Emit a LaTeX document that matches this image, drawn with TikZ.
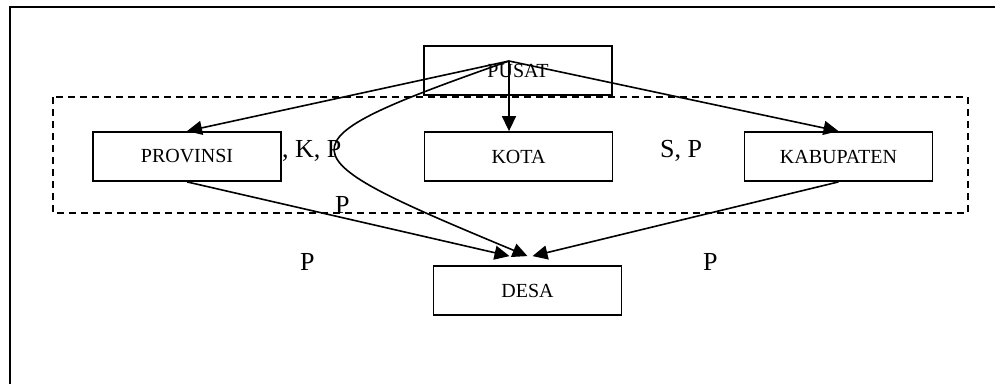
\documentclass[tikz,border=0pt]{standalone}
\usepackage{fontspec}
\setmainfont{Liberation Serif}
\usetikzlibrary{arrows.meta}
\tikzset{unit/.style={draw,line width=1.8pt,minimum width=188pt,minimum height=49pt,font=\fontsize{20}{22}\selectfont},
    link/.style={line width=1.6pt,-{Triangle[length=15pt,width=14pt]}},
    region/.style={line width=1.6pt,dash pattern=on 7pt off 5pt},
    lbl/.style={anchor=base west,inner sep=0pt,font=\fontsize{26}{28}\selectfont}
}
\begin{document}
\begin{tikzpicture}[x=1pt,y=-1pt]
           \useasboundingbox (0,0) rectangle (995,383);
           \clip (0,0) rectangle (995,383);
           % frame, runs off the page on the right and at the bottom
           \draw[line width=1.6pt] (10,7) rectangle (1010,400);
           \draw[region] (53,97) rectangle (968,213);
           \node[unit] (pusat) at (518,70.5) {PUSAT};
           \node[unit] (prov) at (187,156.5) {PROVINSI};
           \node[unit] (kota) at (518.5,156.5) {KOTA};
           \node[unit] (kab) at (838.5,156.5) {KABUPATEN};
           \node[unit] (desa) at (527.5,290.5) {DESA};
           \coordinate (src) at (509,61);
           \draw[link] (src) -- (prov.north);
           \draw[link] (src) -- (src |- kota.north);
           \draw[link] (src) -- (kab.north);
           \draw[link] (prov.south) -- ([xshift=-18pt,yshift=9pt]desa.north);
           \draw[link] (src) .. controls (270,145) and (280,153) .. ([yshift=9pt]desa.north);
           \draw[link] (kab.south) -- ([xshift=5pt,yshift=9pt]desa.north);
           \node[lbl] (kp) at (282,157) {, K, P};
           \node[lbl] (sp) at (660,157) {S, P};
           \node[lbl] (pm) at (335,213) {P};
           \node[lbl] (pl) at (300,270) {P};
           \node[lbl] (pr) at (703,270) {P};
         \end{tikzpicture}
\end{document}
